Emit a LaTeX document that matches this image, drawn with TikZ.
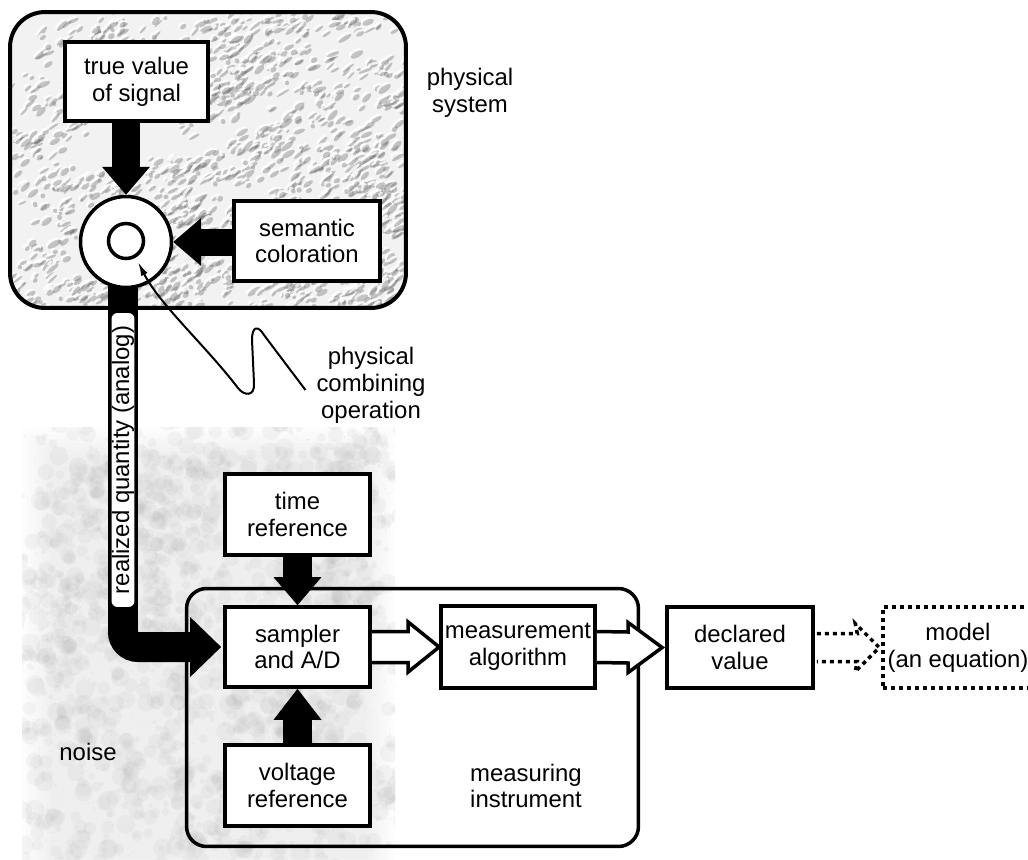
\documentclass[tikz,border=0pt]{standalone}
\usepackage{fontspec}
\setmainfont{Liberation Sans}
\usetikzlibrary{calc,arrows.meta}
\pgfdeclarelayer{texture}
\pgfdeclarelayer{under}
\pgfsetlayers{texture,under,main}
\begin{document}
\begin{tikzpicture}[x=0.02cm,y=-0.02cm,
  txt/.style={font=\fontsize{13.6pt}{15.3pt}\selectfont, align=center, inner sep=1pt},
  blockbox/.style={txt, draw, line width=0.075cm, fill=white},
  ring/.style={circle, draw, line width=0.07cm, fill=white, inner sep=0pt},
  frame/.style={draw, line width=0.08cm, rounded corners=0.7cm, inner sep=0pt},
  hollowarrow/.style={draw, fill=white, line width=0.07cm, miter limit=10},
  dotline/.style={draw, line width=0.07cm, dash pattern=on 0.08cm off 0.08cm},
]
\useasboundingbox (0,0) rectangle (1028,859);
\clip (0,0) rectangle (1028,859);

% ---------- textures ----------
\pgfmathsetseed{11}
\begin{pgfonlayer}{texture}
  \fill[white] (0,0) rectangle (1028,859);
  % cloudy noise field with soft edges
  \begin{scope}
    \foreach \k in {0,...,7}
      \fill[gray!35, opacity=0.045] (22+4*\k,427+4*\k) rectangle (395-4*\k,870);
    \clip (22,427) rectangle (395,859);
    \foreach \j in {1,...,120}{
      \pgfmathsetmacro\cx{22+373*rnd}
      \pgfmathsetmacro\cy{427+432*rnd}
      \foreach \i in {1,...,14}{
        \pgfmathsetmacro\rx{\cx+40*rand}
        \pgfmathsetmacro\ry{\cy+40*rand}
        \pgfmathsetmacro\rr{0.04+0.16*rnd}
        \fill[gray!60, opacity=0.11] (\rx,\ry) circle (\rr cm);
      }
    }
    \foreach \i in {1,...,900}{
      \pgfmathsetmacro\rx{22+373*rnd}
      \pgfmathsetmacro\ry{427+432*rnd}
      \fill[gray!70, opacity=0.15] (\rx,\ry) circle (0.015cm);
    }
  \end{scope}
  % rough stone surface of the physical system
  \begin{scope}
    \clip[rounded corners=0.7cm] (10,12) rectangle (406,308);
    \fill[gray!10] (10,12) rectangle (406,308);
    \foreach \j in {1,...,260}{
      \pgfmathsetmacro\cx{10+396*rnd}
      \pgfmathsetmacro\cy{12+296*rnd}
      \foreach \i in {1,...,7}{
        \pgfmathsetmacro\rx{\cx+22*rand}
        \pgfmathsetmacro\ry{\cy+13*rand}
        \pgfmathsetmacro\rl{0.04+0.11*rnd}
        \pgfmathsetmacro\rw{0.02+0.04*rnd}
        \pgfmathsetmacro\ra{20+30*rnd}
        \fill[white, opacity=0.8, rotate around={\ra:(\rx-2,\ry-2)}] (\rx-2,\ry-2) ellipse [x radius=\rl cm, y radius=\rw cm];
        \fill[black!55, opacity=0.4, rotate around={\ra:(\rx,\ry)}] (\rx,\ry) ellipse [x radius=\rl cm, y radius=\rw cm];
      }
    }
  \end{scope}
\end{pgfonlayer}

% ---------- frames ----------
\node[frame, minimum width=7.92cm, minimum height=5.92cm] (ps) at (208,160) {};
\node[frame, line width=0.07cm, rounded corners=0.4cm, minimum width=9.04cm, minimum height=5.16cm] (mi) at (412.5,717.5) {};

% ---------- blocks ----------
\node[blockbox, minimum width=2.86cm, minimum height=1.58cm] (tv) at (136.5,81.5) {true value\\of signal};
\node[blockbox, minimum width=2.92cm, minimum height=1.60cm] (sem) at (307,241) {semantic\\coloration};
\node[ring, minimum size=1.82cm] (c) at (126,242) {};
\node[ring, minimum size=0.70cm] (ci) at (126,241) {};

\node[blockbox, minimum width=2.90cm, minimum height=1.62cm] (tr) at (297.5,514.5) {time\\reference};
\node[blockbox, minimum width=2.90cm, minimum height=1.60cm] (sa) at (297.5,647) {sampler\\and A/D};
\node[blockbox, minimum width=2.90cm, minimum height=1.62cm] (vr) at (297.5,785.5) {voltage\\reference};
\node[blockbox, minimum width=3.08cm, minimum height=1.64cm] (ma) at (518,647) {measurement\\algorithm};
\node[blockbox, minimum width=2.92cm, minimum height=1.62cm] (dv) at (740,647.5) {declared\\value};
\node[txt, dotline, minimum width=3.00cm, minimum height=1.62cm] (mo) at (958,647.5) {model\\(an equation)};

% ---------- labels ----------
\node[txt] (pslabel) at (470,93) {physical\\system};
\node[txt] (pco) at (371,385) {physical\\combining\\operation};
\node[txt] (milabel) at (526,786) {measuring\\instrument};
\node[txt] (noise) at (88,752) {noise};

% ---------- solid block arrows ----------
\coordinate (tvx) at (c.north |- tv.south);
\fill ($(tvx)+(-14,-1)$) rectangle ($(c.north)+(14,-26)$);
\fill (c.north) -- ++(-24,-28) -- ++(48,0) -- cycle;

\coordinate (smx) at (sem.west |- c.east);
\fill ($(smx)+(1,-13.5)$) rectangle ($(c.east)+(27,13.5)$);
\fill (c.east) -- ++(28,-24) -- ++(0,48) -- cycle;

\fill ($(tr.south)+(-14.5,-1)$) rectangle ($(sa.north)+(14.5,-26)$);
\fill (sa.north) -- ++(-24,-28) -- ++(48,0) -- cycle;

\fill ($(vr.north)+(-14.5,1)$) rectangle ($(sa.south)+(14.5,29)$);
\fill (sa.south) -- ++(-24,31) -- ++(48,0) -- cycle;

% realized quantity: from the combining point down and into the sampler
\coordinate (qx) at ($(c.south)+(-3,-10)$);
\begin{pgfonlayer}{under}
  \draw[line width=0.6cm, rounded corners=0.3cm] (qx) -- (qx |- sa.west) -- ($(sa.west)+(-30,0)$);
  \fill ($(sa.west)+(-2,0)$) -- ++(-31,-30) -- ++(0,60) -- cycle;
\end{pgfonlayer}
\node[txt, rotate=90, fill=white, rounded corners=0.12cm, minimum width=5.88cm, minimum height=0.46cm, inner sep=0pt] (rq) at (123,460) {realized quantity (analog)};

% ---------- hollow arrows ----------
\path[hollowarrow] ($(sa.east)+(0,-15.5)$) -- ($(ma.west)+(-31,-15.5)$) -- ($(ma.west)+(-31,-25)$)
  -- (ma.west) -- ($(ma.west)+(-31,25)$) -- ($(ma.west)+(-31,15.5)$) -- ($(sa.east)+(0,15.5)$);
\path[hollowarrow] ($(ma.east)+(0,-15.5)$) -- ($(dv.west)+(-37,-15.5)$) -- ($(dv.west)+(-37,-25)$)
  -- ($(dv.west)+(-3,0)$) -- ($(dv.west)+(-37,25)$) -- ($(dv.west)+(-37,15.5)$) -- ($(ma.east)+(0,15.5)$);

% ---------- dotted arrow to the model ----------
\path[dotline] ($(dv.east)+(2,-14)$) -- ($(mo.west)+(-24,-14)$) -- ($(mo.west)+(-26,-24)$)
  -- ($(mo.west)+(-2,0)$) -- ($(mo.west)+(-26,24)$) -- ($(mo.west)+(-24,14)$) -- ($(dv.east)+(2,14)$);

% ---------- pointer to the combining operation ----------
\draw[line width=0.04cm, -{Latex[length=0.28cm,width=0.14cm]}]
  ($(pco.west)+(-9,5)$) -- (264,335) .. controls (258,325) and (252,326) .. (252,340)
  -- (254,383) .. controls (255,397) and (244,396) .. (238,388)
  .. controls (205,345) and (160,305) .. ($(ci.center)+(12,21)$);
\end{tikzpicture}
\end{document}
